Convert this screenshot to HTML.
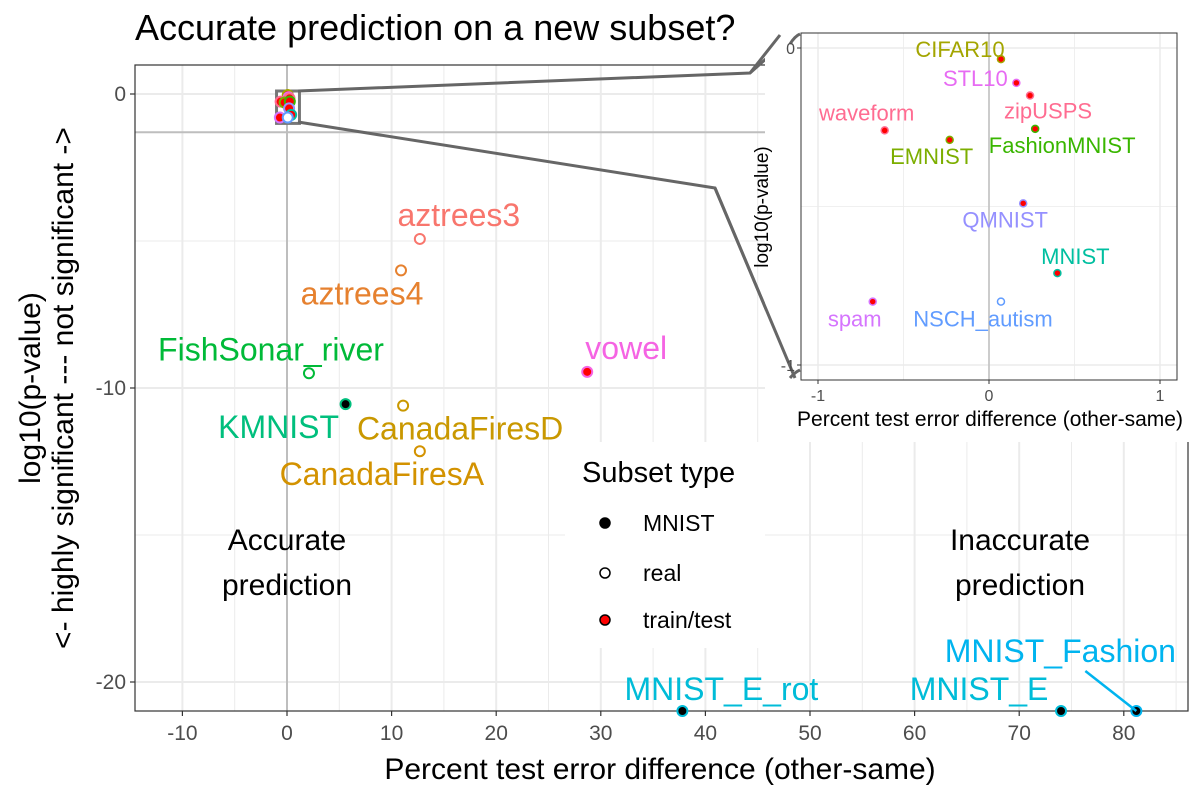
<!DOCTYPE html>
<html><head><meta charset="utf-8"><style>
body{margin:0;background:#fff}
svg{display:block;font-family:"Liberation Sans",sans-serif}
</style></head><body>
<svg id="chart" width="1200" height="800"></svg>
<script>
const names=["aztrees3","aztrees4","FishSonar_river","vowel","KMNIST","CanadaFiresD","CanadaFiresA","MNIST_E_rot","MNIST_E","MNIST_Fashion"];
const xs=[12.7,10.9,2.1,28.7,5.6,11.1,12.7,37.8,74.0,81.2];
const ys=[-4.93,-6.0,-9.5,-9.45,-10.55,-10.6,-12.15,-21,-21,-21];
const types=["real","real","real","train/test","MNIST","real","real","MNIST","MNIST","MNIST"];
const colors=["#F8766D","#E6812F","#00BA38","#F564E3","#00BF7D","#C99800","#D39200","#00BCD8","#00BCD8","#00B4EF"];
const labelDx=[39,-39,-38,39,-67,57,-38,39,-82,-76];
const labelDy=[-13,34,-13,-13,34,34,34,-11,-11,-49];
const xTicks=[-10,0,10,20,30,40,50,60,70,80];
const yTicks=[0,-10,-20];
const inNames=["CIFAR10","STL10","zipUSPS","waveform","EMNIST","FashionMNIST","QMNIST","MNIST","spam","NSCH_autism"];
const inX=[0.07,0.16,0.24,-0.61,-0.23,0.27,0.20,0.40,-0.68,0.07];
const inY=[-0.035,-0.11,-0.15,-0.26,-0.29,-0.255,-0.49,-0.71,-0.80,-0.80];
const inTypes=["train/test","train/test","train/test","train/test","train/test","train/test","train/test","train/test","train/test","real"];
const inColors=["#A3A500","#E76BF3","#FF6C91","#FF6C91","#7CAE00","#39B600","#9590FF","#00BFA0","#D575FE","#619CFF"];
const inDx=[-41,-41,18,-18,-18,27,-18,18,-18,-18];
const inDy=[-2,3,23,-10,24,24,24,-9,25,25];

const svg=document.getElementById('chart');
const NS="http://www.w3.org/2000/svg";
function mk(tag,attrs,parent,text){const e=document.createElementNS(NS,tag);for(const k in attrs)e.setAttribute(k,attrs[k]);if(text!==undefined)e.textContent=text;(parent||svg).appendChild(e);return e;}
const L=135,R=1188,T=65,B=711;
const X=v=>287+(v)*10.46;
const Y=v=>94-v*29.4;
const g=mk('g',{});

mk('rect',{x:L,y:T,width:R-L,height:B-T,fill:'#fff'},g);
for(let v=-15;v<=85;v+=5){const p=X(v);if(p<L||p>R)continue;const major=v%10===0;mk('line',{x1:p,x2:p,y1:T,y2:B,stroke:'#ebebeb','stroke-width':major?2:1},g);}
for(let v=0;v>=-20;v-=5){const p=Y(v);mk('line',{x1:L,x2:R,y1:p,y2:p,stroke:'#ebebeb','stroke-width':v%10===0?2:1},g);}
mk('line',{x1:X(0),x2:X(0),y1:T,y2:B,stroke:'#bebebe','stroke-width':2},g);
mk('line',{x1:L,x2:R,y1:Y(Math.log10(0.05)),y2:Y(Math.log10(0.05)),stroke:'#bebebe','stroke-width':2},g);
mk('rect',{x:L,y:T,width:R-L,height:B-T,fill:'none',stroke:'#333','stroke-width':1.2},g);
xTicks.forEach(v=>{const p=X(v);mk('line',{x1:p,x2:p,y1:B,y2:B+5,stroke:'#333','stroke-width':1.2},g);const t=mk('text',{x:p,y:B+29,'text-anchor':'middle','font-size':21,fill:'#4d4d4d'},g,String(v));});
yTicks.forEach(v=>{const p=Y(v);mk('line',{x1:L-5,x2:L,y1:p,y2:p,stroke:'#333','stroke-width':1.2},g);const t=mk('text',{x:L-9,y:p+7,'text-anchor':'end','font-size':21,fill:'#4d4d4d'},g,String(v));});
const zb=mk('rect',{x:X(-1),y:Y(0)-3,width:X(1)-X(-1)+2,height:Y(-1)-Y(0)+3,fill:'#fff',stroke:'#777','stroke-width':3},g);

function fillOf(t){return t==='MNIST'?'#000':t==='real'?'#fff':'#f00';}
inNames.forEach((n,i)=>{const c=mk('circle',{cx:X(inX[i]),cy:Y(inY[i]),r:5,fill:fillOf(inTypes[i]),stroke:inColors[i],'stroke-width':2},g);});
names.forEach((n,i)=>{const px=X(xs[i]),py=Math.min(Y(ys[i]),B);
 const c=mk('circle',{cx:px,cy:py,r:5,fill:fillOf(types[i]),stroke:colors[i],'stroke-width':2},g);
 
 if(n==='MNIST_Fashion')mk('line',{x1:px,y1:py,x2:px-51,y2:py-40,stroke:colors[i],'stroke-width':2.5},g);
 const t=mk('text',{x:px+labelDx[i],y:py+labelDy[i],'text-anchor':'middle','font-size':32,fill:colors[i]},g,n);
 });
[[287,'Accurate'],[1020,'Inaccurate']].forEach(([x,w])=>{const t=mk('text',{x:x,y:550,'text-anchor':'middle','font-size':30,fill:'#000'},g);mk('tspan',{x:x},t,w);mk('tspan',{x:x,dy:45},t,'prediction');});
mk('polyline',{points:'298,91 750,73 795,33',fill:'none',stroke:'#666','stroke-width':3},g);
mk('polyline',{points:'298,122 715,188 795,378',fill:'none',stroke:'#666','stroke-width':3},g);
let t=mk('text',{x:135,y:40,'font-size':36,fill:'#000'},svg,'Accurate prediction on a new subset?');
t=mk('text',{x:660,y:779,'text-anchor':'middle','font-size':30,fill:'#000'},svg,'Percent test error difference (other-same)');
t=mk('text',{transform:'translate(40,388) rotate(-90)','text-anchor':'middle','font-size':30,fill:'#000'},svg);
mk('tspan',{x:0,y:0},t,'log10(p-value)');mk('tspan',{x:0,y:33},t,'<- highly significant --- not significant ->');
const lg=mk('g',{});
mk('rect',{x:565,y:442,width:200,height:206,fill:'#fff'},lg);
mk('text',{x:582,y:482,'font-size':29,fill:'#000'},lg,'Subset type');
[['MNIST',523],['real',573],['train/test',620]].forEach(([n,y])=>{const e=mk('g',{},lg);mk('circle',{cx:605,cy:y,r:5,fill:fillOf(n),stroke:'#000','stroke-width':1.5},e);mk('text',{x:643,y:y+8,'font-size':23,fill:'#000'},e,n);});
const ig=mk('g',{});
mk('rect',{x:765,y:0,width:435,height:442,fill:'#fff'},ig);
mk('path',{d:'M790,44 Q795,36 800,34 M790,378 Q795,372 800,370',fill:'none',stroke:'#666','stroke-width':3},ig);
mk('polyline',{points:'750,73 780,35',fill:'none',stroke:'#666','stroke-width':3},ig);
mk('polyline',{points:'715,188 795,378',fill:'none',stroke:'#666','stroke-width':3},ig);
const IL=801,IR=1177,IT=33,IB=380;
const IX=v=>989+v*171, IY=v=>48-v*317;
mk('rect',{x:IL,y:IT,width:IR-IL,height:IB-IT,fill:'#fff'},ig);
for(let v=-1;v<=1;v+=0.5){const p=IX(v);mk('line',{x1:p,x2:p,y1:IT,y2:IB,stroke:'#ebebeb','stroke-width':Math.abs(v%1)<1e-9?1.5:0.8},ig);}
for(let v=0;v>=-1;v-=0.5){const p=IY(v);mk('line',{x1:IL,x2:IR,y1:p,y2:p,stroke:'#ebebeb','stroke-width':Math.abs(v%1)<1e-9?1.5:0.8},ig);}
mk('line',{x1:IX(0),x2:IX(0),y1:IT,y2:IB,stroke:'#bebebe','stroke-width':1.5},ig);
mk('rect',{x:IL,y:IT,width:IR-IL,height:IB-IT,fill:'none',stroke:'#333','stroke-width':1},ig);
[-1,0,1].forEach(v=>{const p=IX(v);mk('line',{x1:p,x2:p,y1:IB,y2:IB+4,stroke:'#333'},ig);mk('text',{x:p,y:IB+21,'text-anchor':'middle','font-size':16,fill:'#4d4d4d'},ig,String(v));});
[0,-1].forEach(v=>{const p=IY(v);mk('line',{x1:IL-4,x2:IL,y1:p,y2:p,stroke:'#333'},ig);mk('text',{x:IL-6,y:p+6,'text-anchor':'end','font-size':16,fill:'#4d4d4d'},ig,String(v));});
mk('text',{x:990,y:426,'text-anchor':'middle','font-size':21,fill:'#000'},ig,'Percent test error difference (other-same)');
mk('text',{transform:'translate(768,207) rotate(-90)','text-anchor':'middle','font-size':19,fill:'#000'},ig,'log10(p-value)');
inNames.forEach((n,i)=>{const px=IX(inX[i]),py=IY(inY[i]);
 const c=mk('circle',{cx:px,cy:py,r:3.5,fill:fillOf(inTypes[i]),stroke:inColors[i],'stroke-width':1.5},ig);
 
 const l=mk('text',{x:px+inDx[i],y:py+inDy[i],'text-anchor':'middle','font-size':22,fill:inColors[i]},ig,n);
 });
</script>
</body></html>
